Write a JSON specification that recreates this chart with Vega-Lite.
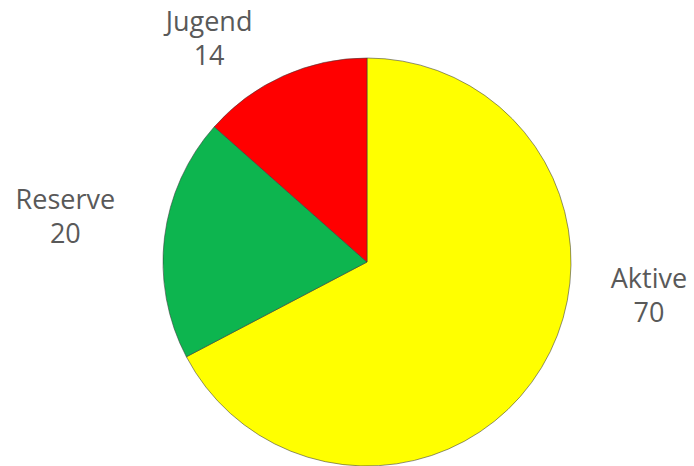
{
  "$schema": "https://vega.github.io/schema/vega-lite/v6.json",
  "width": 654,
  "height": 408,
  "autosize": "none",
  "padding": {"left": 40, "top": 58, "right": 0, "bottom": 0},
  "background": "white",
  "config": {"view": {"stroke": null}},
  "data": {
    "values": [
      {"category": "Aktive", "value": 70},
      {"category": "Reserve", "value": 20},
      {"category": "Jugend", "value": 14}
    ]
  },
  "transform": [
    {"stack": "value", "groupby": [], "sort": [{"field": "value", "order": "descending"}], "as": ["v0", "v1"]},
    {"calculate": "(datum.v0 + datum.v1) / 2", "as": "mid"},
    {"calculate": "[datum.category, '' + datum.value]", "as": "label"}
  ],
  "layer": [
    {
      "mark": {"type": "arc", "outerRadius": 204, "stroke": "#3a3a3a", "strokeWidth": 0.8, "strokeOpacity": 0.7},
      "encoding": {
        "theta": {"field": "value", "type": "quantitative", "stack": true},
        "order": {"field": "value", "type": "quantitative", "sort": "descending"},
        "color": {
          "field": "category",
          "type": "nominal",
          "scale": {"domain": ["Aktive", "Reserve", "Jugend"], "range": ["#FFFF00", "#0DB54F", "#FF0000"]},
          "legend": null
        }
      }
    },
    {
      "transform": [{"filter": "datum.category === 'Aktive'"}],
      "mark": {"type": "text", "radius": 284, "thetaOffset": -0.423, "dy": -16, "font": "Open Sans", "fontSize": 27, "lineHeight": 34, "color": "#595959", "align": "center", "baseline": "middle"},
      "encoding": {"theta": {"field": "mid", "type": "quantitative", "stack": null}, "text": {"field": "label"}}
    },
    {
      "transform": [{"filter": "datum.category === 'Reserve'"}],
      "mark": {"type": "text", "radius": 305, "thetaOffset": 0.028, "dy": -16, "font": "Open Sans", "fontSize": 27, "lineHeight": 34, "color": "#595959", "align": "center", "baseline": "middle"},
      "encoding": {"theta": {"field": "mid", "type": "quantitative", "stack": null}, "text": {"field": "label"}}
    },
    {
      "transform": [{"filter": "datum.category === 'Jugend'"}],
      "mark": {"type": "text", "radius": 273, "thetaOffset": -0.194, "dy": -16, "font": "Open Sans", "fontSize": 27, "lineHeight": 34, "color": "#595959", "align": "center", "baseline": "middle"},
      "encoding": {"theta": {"field": "mid", "type": "quantitative", "stack": null}, "text": {"field": "label"}}
    }
  ]
}
